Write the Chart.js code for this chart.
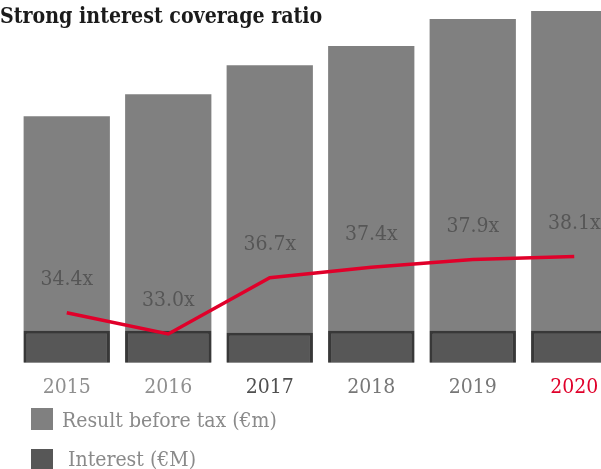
<!DOCTYPE html>
<html>
<head>
<meta charset="utf-8">
<script src="https://cdn.jsdelivr.net/npm/chart.js@4"></script>
<style>
  html, body { margin: 0; padding: 0; background: #fff; overflow: hidden; width: 601px; height: 469px; }
  #wrap { position: absolute; left: 0; top: 0; width: 625px; height: 412px; }
  #title { position: absolute; left: 0; top: 1px; font-family: "DejaVu Serif Condensed", "DejaVu Serif", serif; font-weight: bold; font-size: 23px; color: #1b1b1b; white-space: nowrap; transform: scaleX(0.92); transform-origin: 0 0; }
  .leg { position: absolute; font-family: "DejaVu Serif Condensed", "DejaVu Serif", serif; font-size: 21px; color: #8a8a8a; white-space: nowrap; }
  .sw { position: absolute; }
</style>
</head>
<body>
<div id="wrap"><canvas id="c" width="625" height="412"></canvas></div>
<div id="title">Strong interest coverage ratio</div>
<div id="legend"></div>
<script>
// Years on the category axis
const years = ['2015', '2016', '2017', '2018', '2019', '2020'];
// Result before tax (€m)
const resultBeforeTax = [246, 268, 297, 316, 343, 351];
// Interest (€M)
const interest = [32, 32, 30, 32, 32, 32];
// Interest coverage ratio (x)
const coverage = [34.4, 33.0, 36.7, 37.4, 37.9, 38.1];
// Year label colours
const yearColors = ['#8f8f8f', '#8f8f8f', '#4f4f4f', '#777777', '#777777', '#e0002a'];

const SERIF = '"DejaVu Serif Condensed", "DejaVu Serif", serif';
const GREY = '#808080';
const DARK = '#575757';
const RED = '#e0002a';

// Ratio labels drawn above each point of the coverage line
const ratioLabels = {
  id: 'ratioLabels',
  afterDatasetsDraw(chart) {
    const meta = chart.getDatasetMeta(0);
    const ctx = chart.ctx;
    ctx.save();
    ctx.font = '21px ' + SERIF;
    ctx.fillStyle = '#565656';
    ctx.textAlign = 'center';
    ctx.textBaseline = 'middle';
    meta.data.forEach((pt, i) => {
      ctx.fillText(coverage[i].toFixed(1) + 'x', pt.x, pt.y - 33);
    });
    ctx.restore();
  }
};

new Chart(document.getElementById('c'), {
  data: {
    labels: years,
    datasets: [
      {
        type: 'line', label: 'Interest coverage', data: coverage, yAxisID: 'y2',
        borderColor: RED, borderWidth: 3.5, pointRadius: 0, tension: 0, order: 0
      },
      {
        type: 'bar', label: 'Interest (€M)', data: interest, yAxisID: 'y',
        backgroundColor: DARK, borderColor: '#383838', borderWidth: 3,
        barPercentage: 0.85, categoryPercentage: 1, grouped: false, order: 1
      },
      {
        type: 'bar', label: 'Result before tax (€m)', data: resultBeforeTax, yAxisID: 'y',
        backgroundColor: GREY, borderWidth: 0,
        barPercentage: 0.85, categoryPercentage: 1, grouped: false, order: 2
      }
    ]
  },
  options: {
    responsive: false,
    animation: false,
    layout: { padding: { left: 16, right: 0, top: 0, bottom: 0 } },
    plugins: { legend: { display: false }, tooltip: { enabled: false } },
    scales: {
      x: {
        grid: { display: false, drawTicks: false },
        border: { display: false },
        ticks: {
          font: { family: SERIF, size: 21 },
          color: (c) => yearColors[c.index],
          padding: 12
        }
      },
      y: { display: false, min: 0, max: 362 },
      y2: { display: false, min: 31.1, max: 55.0 }
    }
  },
  plugins: [ratioLabels]
});
</script>
<script>
// Legend entries below the chart
(function () {
  const items = [
    { label: 'Result before tax (€m)', color: '#808080', sx: 31, sy: 408, tx: 62, ty: 408 },
    { label: 'Interest (€M)', color: '#575757', sx: 31, sy: 449, tx: 68, ty: 447 }
  ];
  const host = document.getElementById('legend');
  items.forEach(it => {
    const sw = document.createElement('div');
    sw.className = 'sw';
    Object.assign(sw.style, { left: it.sx + 'px', top: it.sy + 'px', width: '22px', height: '22px', background: it.color });
    host.appendChild(sw);
    const t = document.createElement('div');
    t.className = 'leg';
    t.textContent = it.label;
    Object.assign(t.style, { left: it.tx + 'px', top: it.ty + 'px' });
    host.appendChild(t);
  });
})();
</script>
</body>
</html>
